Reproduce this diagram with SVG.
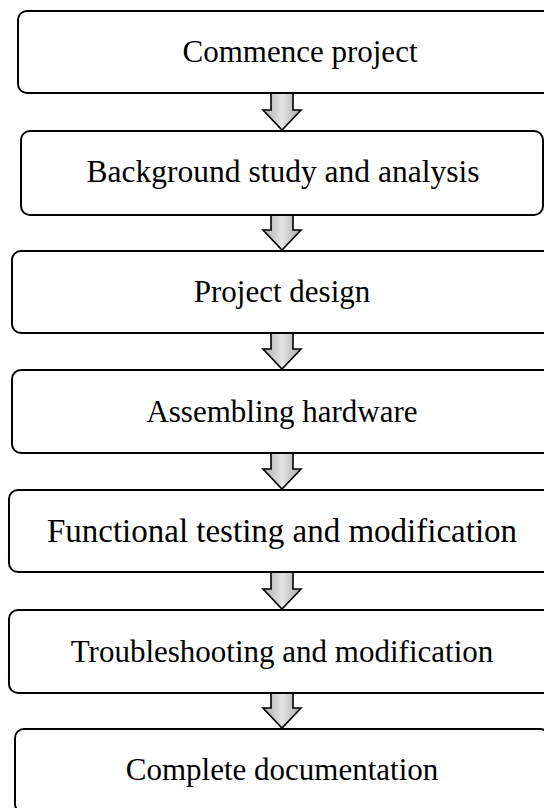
<svg xmlns="http://www.w3.org/2000/svg" width="544" height="808" viewBox="0 0 544 808">
  <style>
    .box { fill: #ffffff; stroke: #000000; stroke-width: 2; }
    .label { font-family: "Liberation Serif", "Times New Roman", serif; font-size: 31px; fill: #000000; text-anchor: middle; }
    .arrow { fill: url(#arrowFill); stroke: #000000; stroke-width: 1.6; stroke-linejoin: miter; }
  </style>
  <defs>
    <linearGradient id="arrowFill" x1="0" y1="0" x2="1" y2="0">
      <stop offset="0" stop-color="#a9a9a9"/>
      <stop offset="0.5" stop-color="#e4e4e4"/>
      <stop offset="1" stop-color="#a9a9a9"/>
    </linearGradient>
    <!-- block arrow pointing down, tip at (0,0) -->
    <path id="downArrow" d="M -11 -37 L 11 -37 L 11 -20 L 19 -20 L 0 0 L -19 -20 L -11 -20 Z"/>
  </defs>

  <rect width="544" height="808" fill="#ffffff"/>

  <g id="connectors">
    <use href="#downArrow" class="arrow" x="282" y="130"/>
    <use href="#downArrow" class="arrow" x="282" y="250"/>
    <use href="#downArrow" class="arrow" x="282" y="369"/>
    <use href="#downArrow" class="arrow" x="282" y="489"/>
    <use href="#downArrow" class="arrow" x="282" y="609"/>
    <use href="#downArrow" class="arrow" x="282" y="728"/>
  </g>

  <g id="node-commence">
    <rect class="box" x="18" y="11" width="564" height="82" rx="9"/>
    <text class="label" x="300" y="62">Commence project</text>
  </g>
  <g id="node-background">
    <rect class="box" x="21" y="131" width="522" height="84" rx="9"/>
    <text class="label" x="283" y="182" style="font-size:31.5px">Background study and analysis</text>
  </g>
  <g id="node-design">
    <rect class="box" x="12" y="251" width="540" height="82" rx="9"/>
    <text class="label" x="282" y="302">Project design</text>
  </g>
  <g id="node-hardware">
    <rect class="box" x="12" y="370" width="540" height="83" rx="9"/>
    <text class="label" x="282" y="422">Assembling hardware</text>
  </g>
  <g id="node-testing">
    <rect class="box" x="9" y="490" width="546" height="82" rx="9"/>
    <text class="label" x="282" y="542" style="font-size:33px">Functional testing and modification</text>
  </g>
  <g id="node-troubleshooting">
    <rect class="box" x="9" y="610" width="546" height="83" rx="9"/>
    <text class="label" x="282" y="662">Troubleshooting and modification</text>
  </g>
  <g id="node-documentation">
    <rect class="box" x="15" y="729" width="534" height="84" rx="9"/>
    <text class="label" x="282" y="780">Complete documentation</text>
  </g>
</svg>
